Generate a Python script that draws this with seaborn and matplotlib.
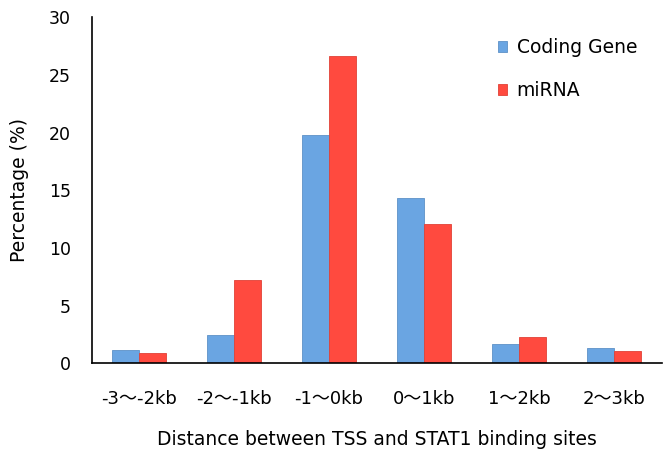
import matplotlib
matplotlib.use("Agg")
import matplotlib.pyplot as plt
import seaborn as sns
import pandas as pd
import numpy as np

categories = ["-3～-2kb", "-2～-1kb", "-1～0kb", "0～1kb", "1～2kb", "2～3kb"]
coding_gene = [1.2, 2.5, 19.8, 14.3, 1.7, 1.3]
mirna = [0.9, 7.2, 26.6, 12.1, 2.3, 1.1]
series_names = ["Coding Gene", "miRNA"]

df = pd.DataFrame({
    "category": categories * 2,
    "value": coding_gene + mirna,
    "series": [series_names[0]] * len(categories) + [series_names[1]] * len(categories),
})

sns.set_style("white")
plt.rcParams["font.family"] = ["DejaVu Sans", "Noto Sans CJK SC"]
plt.rcParams["text.color"] = "black"
plt.rcParams["axes.labelcolor"] = "black"

fig = plt.figure(figsize=(6.66, 4.55), dpi=100)
ax = fig.add_axes([0.1374, 0.2011, 0.8559, 0.7615])

palette = {"Coding Gene": "#6aa5e2", "miRNA": "#ff4a3f"}
sns.barplot(data=df, x="category", y="value", hue="series", order=categories,
            hue_order=series_names, palette=palette, width=0.575, ax=ax,
            edgecolor="none", linewidth=0, saturation=1, legend=True)

for patch in ax.patches:
    fc = patch.get_facecolor()
    patch.set_edgecolor(tuple(c * 0.88 for c in fc[:3]) + (1,))
    patch.set_linewidth(0.6)

ax.set_xlim(-0.5, 5.5)
ax.set_ylim(0, 30)
ax.set_yticks(np.arange(0, 31, 5))
ax.set_yticklabels([str(v) for v in range(0, 31, 5)])

ax.set_xticks(np.arange(len(categories)))
ax.set_xticklabels(categories)
ax.set_xticks(np.arange(-0.5, len(categories), 1.0), minor=True)
ax.tick_params(axis="x", which="major", length=0, pad=19, labelsize=13, colors="black")
ax.tick_params(axis="x", which="minor", length=6, width=1, direction="out", colors="black")
ax.tick_params(axis="y", which="major", length=5, width=1, direction="out", pad=10,
               labelsize=12.5, colors="black")

for s in ["top", "right"]:
    ax.spines[s].set_visible(False)
for s in ["left", "bottom"]:
    ax.spines[s].set_color("black")
    ax.spines[s].set_linewidth(1.2)

ax.set_xlabel("Distance between TSS and STAT1 binding sites", fontsize=13.5, labelpad=16,
              color="black")
ax.set_ylabel("Percentage (%)", fontsize=13.5, labelpad=14, color="black")

leg = ax.legend(loc="upper left", bbox_to_anchor=(498 / 666, 1 - 38 / 455),
                bbox_transform=fig.transFigure, frameon=False, borderpad=0,
                borderaxespad=0, fontsize=13.5, handlelength=0.5, handleheight=0.5,
                handletextpad=0.5, labelspacing=1.3)
for t in leg.get_texts():
    t.set_color("black")

fig.savefig("out.png", dpi=100)
